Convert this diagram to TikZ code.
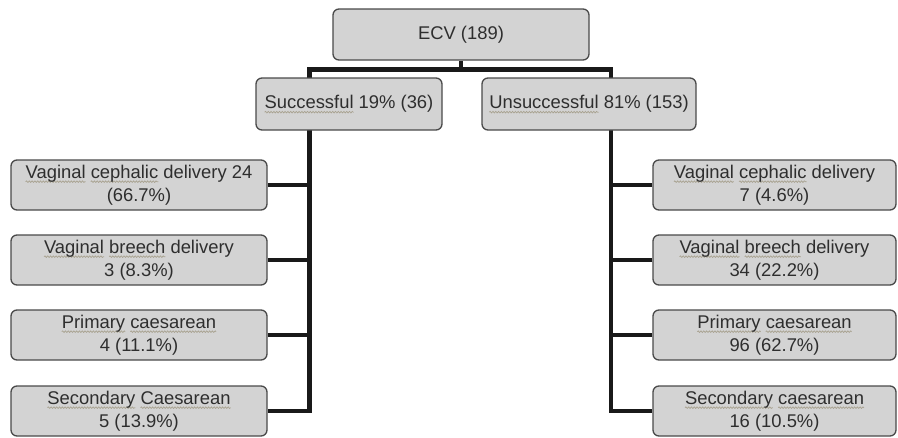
\documentclass[tikz,border=0pt]{standalone}
\usepackage{fontspec}
\setmainfont{Liberation Sans}
\usetikzlibrary{backgrounds,decorations.pathmorphing}
\definecolor{boxfill}{HTML}{D3D3D3}
\definecolor{boxline}{HTML}{4A4A4A}
\definecolor{txt}{HTML}{2E2E2E}
\definecolor{wavec}{HTML}{A8A290}
\newlength\swl
\newcommand{\sw}[1]{\settowidth{\swl}{#1}\tikz[overlay,baseline=0pt,x=1pt,y=1pt]{\path[draw=wavec, fill=none, sharp corners, line width=0.7pt, decorate, decoration={snake,amplitude=0.8pt,segment length=2.8pt}] (0,-3.4) -- (\swl,-3.4);}#1}
\tikzset{
  box/.style={draw=boxline, line width=1.3pt, fill=boxfill, rounded corners=6pt,
    text=txt, font=\fontsize{18.4}{23}\selectfont, align=center, inner sep=0pt},
  conn/.style={draw=black!90, line width=4.3pt},
}
\begin{document}
\begin{tikzpicture}[x=1pt,y=-1pt]
\useasboundingbox (0,0) rectangle (898,437);
\node[box, minimum width=256pt, minimum height=51pt] (ecv) at (461,34.5) {ECV (189)};
\node[box, minimum width=186pt, minimum height=52pt] (succ) at (349,104) {\sw{Successful} 19\% (36)};
\node[box, minimum width=214pt, minimum height=52pt] (uns) at (589,104) {\sw{Unsuccessful} 81\% (153)};

\node[box, minimum width=256pt, minimum height=50pt] (l1) at (139,185) {\sw{Vaginal} \sw{cephalic} delivery 24\\(66.7\%)};
\node[box, minimum width=256pt, minimum height=50pt] (l2) at (139,260) {\sw{Vaginal} \sw{breech} delivery\\3 (8.3\%)};
\node[box, minimum width=256pt, minimum height=50pt] (l3) at (139,335) {\sw{Primary} \sw{caesarean}\\4 (11.1\%)};
\node[box, minimum width=256pt, minimum height=50pt] (l4) at (139,411) {\sw{Secondary} \sw{Caesarean}\\5 (13.9\%)};

\node[box, minimum width=243pt, minimum height=50pt] (r1) at (774.5,185) {\sw{Vaginal} \sw{cephalic} delivery\\7 (4.6\%)};
\node[box, minimum width=243pt, minimum height=50pt] (r2) at (774.5,260) {\sw{Vaginal} \sw{breech} delivery\\34 (22.2\%)};
\node[box, minimum width=243pt, minimum height=50pt] (r3) at (774.5,335) {\sw{Primary} \sw{caesarean}\\96 (62.7\%)};
\node[box, minimum width=243pt, minimum height=50pt] (r4) at (774.5,411) {\sw{Secondary} \sw{caesarean}\\16 (10.5\%)};

\coordinate (jm) at (461,69.5);
\coordinate (jl) at (309.5,69.5);
\coordinate (jr) at (611,69.5);
\begin{scope}[on background layer]
\draw[conn] (ecv.south) -- (jm);
\draw[conn] ([xshift=-2.15pt]jl) -- ([xshift=2.15pt]jr);
\draw[conn] (jl) -- (jl |- l4.east) -- (l4.east);
\draw[conn] (jr) -- (jr |- r4.west) -- (r4.west);
\draw[conn] (l1.east) -- (l1.east -| jl);
\draw[conn] (l2.east) -- (l2.east -| jl);
\draw[conn] (l3.east) -- (l3.east -| jl);
\draw[conn] (r1.west) -- (r1.west -| jr);
\draw[conn] (r2.west) -- (r2.west -| jr);
\draw[conn] (r3.west) -- (r3.west -| jr);
\end{scope}
\end{tikzpicture}
\end{document}
